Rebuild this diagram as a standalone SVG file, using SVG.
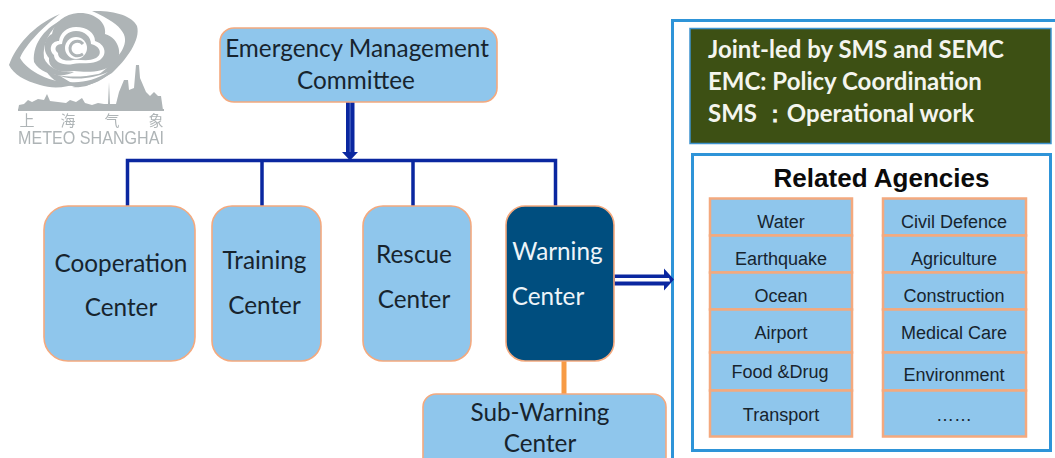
<svg xmlns="http://www.w3.org/2000/svg" width="1055" height="458" viewBox="0 0 1055 458">
<style>
.box{fill:#8fc6ec;stroke:#f4a97e;stroke-width:1.6}
.cell{fill:#8fc6ec;stroke:#f4a97e;stroke-width:2.5}
.t{font-family:Lato,"Open Sans",sans-serif;font-size:24.3px;fill:#17242e;text-anchor:middle}
.w{fill:#eef4f8}
.c{font-family:"Liberation Sans",Arial,sans-serif;font-size:18px;fill:#17242e;text-anchor:middle}
.g{font-family:Lato,"Open Sans",sans-serif;font-size:24px;font-weight:700;fill:#f4f5ee}
.panel{fill:#fff;stroke:#2e94d8;stroke-width:3}
.wire{fill:none;stroke:#0a27a0;stroke-width:3.5}
.lg{fill:#aeb4b6}
.ls{fill:none;stroke:#aeb4b6}
.cjk{font-family:"Noto Sans CJK SC",sans-serif;font-size:15px;text-anchor:middle;fill:#aeb4b6}
</style>
<defs><filter id="soft" x="-5%" y="-5%" width="110%" height="110%"><feGaussianBlur stdDeviation="0.45"/></filter></defs>
<rect width="1055" height="458" fill="#fff"/>

<g id="logo" filter="url(#soft)">
<path class="lg" d="M9 65C16 46 32 26 60 14C44 26 26 44 20 58C28 72 52 84 78 83C66 88 52 89 40 85C25 81 13 74 9 65Z"/>
<path class="lg" d="M92 11C112 10 132 15 137 26C141 40 126 60 112 73C90 86 84 88 72 87C92 82 110 68 121 52C130 38 126 26 92 11Z"/>
<path class="lg" d="M34 62C32 42 48 26 62 20C50 30 42 44 44 58C48 68 60 73 74 72C64 78 42 76 34 62Z"/>
<path class="lg" d="M78 13C95 12 107 23 105 34C120 38 124 58 113 64C102 74 84 72 74 71C58 74 48 68 49 58C42 50 44 38 52 34C54 22 65 14 78 13Z"/>
<path fill="#fff" d="M76 27C87 27 95 33 95 41C105 44 108 54 100 60C92 65 81 62 73 64C63 66 54 62 54 55C48 50 51 41 59 41C60 33 67 27 76 27Z"/>
<path class="lg" d="M76 31C85 31 91 37 91 44C100 46 103 54 96 58C88 62 80 59 73 60C65 62 58 59 58 53C53 49 56 44 62 44C63 36 68 31 76 31Z"/>
<circle cx="76" cy="48" r="11" fill="#fff"/>
<path class="ls" stroke-width="3" d="M83 44C79 39 71 41 70 48C70 55 77 58 83 54"/>
<path class="lg" d="M46 71C62 80 100 78 118 66C104 82 86 88 72 86C60 85 52 80 46 71Z"/>
<path fill="#fff" d="M60 76C76 81 94 78 108 72C96 80 82 83 70 82Z"/>
<path class="lg" d="M18 110L19 105L24 104L28 100L32 102L38 99L44 100L47 94L50 101L58 102L66 103L70 100L76 102L82 98L85 103L92 105L98 103L104 104L108 104L109 82L110 104L116 104L119 92L124 80L128 80L129 90L134 88L136 65L139 65L140 78L146 92L150 96L154 92L158 96L161 96L163 110Z"/>
<rect class="lg" x="18" y="109" width="146" height="2"/>
<text class="cjk" x="27" y="126">上</text>
<text class="cjk" x="68" y="126">海</text>
<text class="cjk" x="112" y="126">气</text>
<text class="cjk" x="156" y="126">象</text>
<text class="lg" x="18" y="144" font-family="'Liberation Sans',sans-serif" font-size="17.500" textLength="146" lengthAdjust="spacingAndGlyphs">METEO SHANGHAI</text>
</g>

<g id="outer-panel"><rect class="panel" x="672.500" y="20.500" width="400" height="460"/></g>

<g id="connectors">
<path class="wire" d="M127.5 206V160.500H555.500V206M262 160.500V206M413 160.500V206"/>
<path fill="#0a27a0" d="M346 102H354.500V152H358L350 160.500L342 152H346Z"/>
<path fill="#3a55b8" d="M349.300 102H351V152H349.300Z"/>
<path fill="none" stroke="#f79b45" stroke-width="5" d="M564 361V395"/>
<path fill="#0a27a0" d="M614 274.500H664V268.500L674 279.500L664 290.500V285.500H614Z"/>
<path fill="#fff" d="M615 278H669L670 281.500H615Z"/>
</g>

<g id="emc"><rect class="box" x="220" y="28" width="277" height="74" rx="14"/>
<text class="t" x="357" y="57">Emergency Management</text><text class="t" x="356" y="89">Committee</text></g>
<g id="cooperation"><rect class="box" x="44" y="206" width="151" height="155" rx="24"/>
<text class="t" x="121" y="272">Cooperation</text><text class="t" x="121" y="316">Center</text></g>
<g id="training"><rect class="box" x="212" y="206" width="109" height="155" rx="20"/>
<text class="t" x="264.500" y="269">Training</text><text class="t" x="264.500" y="314">Center</text></g>
<g id="rescue"><rect class="box" x="363" y="206" width="108" height="155" rx="20"/>
<text class="t" x="414" y="263">Rescue</text><text class="t" x="414" y="308">Center</text></g>
<g id="warning"><rect x="506" y="206" width="108" height="155" rx="19" fill="#004e7f" stroke="#f4a97e" stroke-width="1.600"/>
<text class="t w" x="557.500" y="260">Warning</text><text class="t w" x="548" y="305">Center</text></g>
<g id="subwarning"><rect class="box" x="423" y="394" width="243" height="80" rx="13"/>
<text class="t" x="540" y="421">Sub-Warning</text><text class="t" x="540" y="452">Center</text></g>

<g id="summary"><rect x="690" y="28.500" width="361" height="115" fill="#3d5014" stroke="#3d93cf" stroke-width="1.500"/>
<text class="g" x="708" y="58">Joint-led by SMS and SEMC</text>
<text class="g" x="708" y="90">EMC: Policy Coordination</text>
<text class="g" x="708" y="122">SMS ：Operational work</text></g>
<g id="agencies"><rect class="panel" x="692.500" y="154.500" width="358" height="296"/>
<text x="881.500" y="187" font-family="'Liberation Sans',Arial,sans-serif" font-size="26" font-weight="700" fill="#0b0b0b" text-anchor="middle">Related Agencies</text></g>

<g id="agency-left">
<rect class="cell" x="710" y="198.500" width="142" height="37"/>
<rect class="cell" x="710" y="235.500" width="142" height="37"/>
<rect class="cell" x="710" y="272.500" width="142" height="37"/>
<rect class="cell" x="710" y="309.500" width="142" height="43"/>
<rect class="cell" x="710" y="352.500" width="142" height="38"/>
<rect class="cell" x="710" y="390.500" width="142" height="46"/>
<text class="c" x="781" y="228">Water</text>
<text class="c" x="781" y="265">Earthquake</text>
<text class="c" x="781" y="302">Ocean</text>
<text class="c" x="781" y="339">Airport</text>
<text class="c" x="780" y="378">Food &amp;Drug</text>
<text class="c" x="781" y="421">Transport</text>
</g>
<g id="agency-right">
<rect class="cell" x="883" y="198.500" width="143" height="37"/>
<rect class="cell" x="883" y="235.500" width="143" height="37"/>
<rect class="cell" x="883" y="272.500" width="143" height="37"/>
<rect class="cell" x="883" y="309.500" width="143" height="43"/>
<rect class="cell" x="883" y="352.500" width="143" height="38"/>
<rect class="cell" x="883" y="390.500" width="143" height="46"/>
<text class="c" x="954" y="228">Civil Defence</text>
<text class="c" x="954" y="265">Agriculture</text>
<text class="c" x="954" y="302">Construction</text>
<text class="c" x="954" y="339">Medical Care</text>
<text class="c" x="954" y="381">Environment</text>
<text class="c" x="954" y="421">……</text>
</g>
</svg>
